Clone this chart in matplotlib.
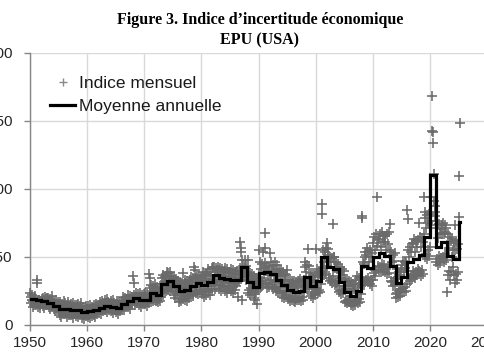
import matplotlib
matplotlib.use("Agg")
import matplotlib.pyplot as plt
from matplotlib.lines import Line2D
import numpy as np

# ---------------- data ----------------
years = list(range(1950, 2026))
annual_mean = [57, 55, 53, 49, 43, 36, 35, 34, 33, 29,
               30, 33, 38, 42, 40, 38, 47, 52, 60, 55,
               56, 70, 66, 90, 96, 85, 74, 78, 86, 92,
               88, 95, 110, 103, 101, 99, 100, 128, 94, 83,
               114, 118, 112, 99, 88, 78, 73, 76, 106, 86,
               97, 151, 129, 123, 95, 72, 65, 76, 130, 125,
               150, 158, 152, 130, 92, 105, 140, 145, 155, 195,
               331, 172, 183, 152, 145, 228]

monthly_1950s = [70, 62, 48, 55, 66, 40, 52, 58, 45, 63, 60, 55,
                 50, 45, 99, 92, 52, 40, 48, 55, 38, 44, 46, 52,
                 58, 46, 60, 42, 55, 38, 62, 50, 48, 57, 44, 60,
                 52, 44, 60, 40, 55, 36, 58, 47, 50, 42, 63, 45,
                 48, 36, 52, 40, 45, 30, 55, 38, 44, 35, 50, 42,
                 44, 28, 50, 22, 38, 18, 46, 30, 40, 25, 52, 35,
                 42, 24, 48, 28, 40, 18, 36, 30, 50, 22, 35, 44,
                 40, 22, 46, 28, 38, 16, 48, 30, 35, 25, 44, 33,
                 38, 20, 44, 26, 46, 18, 36, 28, 42, 24, 48, 32,
                 34, 16, 40, 22, 30, 14, 38, 24, 33, 20, 42, 28]
monthly_1960s = [36, 18, 42, 22, 30, 16, 44, 26, 35, 20, 40, 31,
                 38, 22, 44, 28, 34, 18, 46, 30, 40, 24, 36, 35,
                 44, 28, 50, 32, 40, 24, 52, 36, 46, 30, 38, 42,
                 48, 32, 56, 36, 44, 28, 58, 40, 50, 34, 46, 45,
                 46, 30, 54, 34, 42, 26, 55, 38, 48, 32, 40, 44,
                 44, 28, 52, 32, 40, 24, 50, 36, 46, 30, 38, 42,
                 54, 36, 62, 42, 50, 32, 60, 45, 52, 40, 56, 48,
                 58, 40, 66, 46, 55, 36, 64, 50, 56, 44, 62, 52,
                 107, 93, 66, 50, 58, 44, 70, 55, 62, 48, 68, 57,
                 62, 44, 70, 48, 58, 40, 66, 52, 60, 46, 68, 55]
monthly_1970s = [64, 46, 70, 50, 58, 42, 68, 54, 60, 48, 112, 103,
                 82, 56, 88, 60, 74, 54, 86, 64, 78, 56, 90, 68,
                 80, 52, 84, 56, 72, 50, 82, 58, 74, 54, 80, 62,
                 104, 72, 110, 78, 94, 70, 106, 80, 98, 76, 108, 88,
                 118, 78, 114, 84, 102, 74, 116, 86, 108, 80, 104, 92,
                 100, 66, 106, 72, 90, 60, 102, 76, 94, 68, 96, 82,
                 88, 51, 94, 58, 80, 54, 92, 64, 115, 58, 84, 70,
                 92, 56, 100, 64, 82, 54, 96, 68, 86, 60, 94, 74,
                 100, 66, 106, 72, 90, 64, 104, 76, 129, 121, 102, 84,
                 104, 70, 110, 76, 94, 68, 108, 78, 98, 72, 106, 86]
monthly_1980s = [104, 68, 116, 76, 96, 62, 110, 80, 100, 66, 112, 86,
                 112, 72, 124, 80, 102, 66, 118, 86, 108, 74, 126, 94,
                 128, 88, 129, 94, 116, 80, 125, 100, 122, 90, 127, 108,
                 122, 80, 126, 88, 110, 74, 124, 94, 116, 84, 120, 98,
                 120, 76, 126, 86, 108, 70, 124, 92, 114, 80, 118, 96,
                 118, 74, 124, 84, 106, 70, 122, 90, 112, 78, 116, 94,
                 110, 86, 120, 92, 104, 62, 112, 96, 125, 182, 169, 160,
                 143, 55, 130, 112, 120, 105, 143, 115, 125, 100, 130, 118,
                 110, 70, 143, 78, 100, 66, 114, 82, 104, 72, 112, 86,
                 100, 60, 108, 68, 90, 56, 104, 72, 94, 46, 102, 78]
monthly_1990s = [165, 112, 140, 90, 124, 84, 134, 98, 160, 88, 126, 104,
                 202, 170, 136, 90, 120, 82, 130, 92, 118, 84, 128, 100,
                 158, 110, 138, 88, 118, 80, 132, 94, 124, 84, 140, 100,
                 120, 76, 132, 80, 108, 72, 124, 84, 112, 74, 122, 92,
                 108, 62, 118, 70, 96, 60, 112, 74, 100, 66, 110, 84,
                 121, 58, 100, 60, 86, 52, 98, 64, 90, 56, 96, 72,
                 92, 54, 98, 58, 82, 50, 94, 60, 86, 55, 96, 70,
                 96, 56, 102, 60, 84, 54, 98, 62, 88, 56, 100, 72,
                 128, 84, 138, 88, 116, 80, 132, 92, 168, 86, 130, 100,
                 106, 64, 114, 68, 94, 60, 110, 72, 100, 66, 108, 82]
monthly_2000s = [167, 80, 124, 74, 106, 70, 120, 78, 112, 72, 118, 90,
                 268, 245, 165, 125, 140, 110, 160, 118, 150, 112, 170, 130,
                 181, 167, 155, 104, 138, 96, 150, 100, 140, 92, 148, 108,
                 223, 150, 150, 96, 128, 88, 140, 92, 124, 86, 135, 96,
                 118, 72, 128, 76, 104, 68, 124, 78, 110, 70, 120, 86,
                 94, 50, 102, 54, 80, 48, 98, 56, 86, 50, 96, 64,
                 86, 44, 94, 48, 74, 42, 90, 50, 80, 44, 88, 56,
                 100, 52, 108, 56, 84, 48, 104, 58, 90, 50, 106, 68,
                 240, 236, 140, 95, 135, 88, 150, 94, 160, 100, 155, 96,
                 170, 104, 162, 96, 140, 90, 165, 100, 150, 86, 158, 100]
monthly_2010s = [180, 115, 195, 122, 165, 108, 200, 120, 175, 283, 188, 130,
                 190, 122, 200, 128, 172, 116, 205, 134, 182, 120, 196, 132,
                 184, 116, 196, 124, 166, 112, 200, 128, 178, 114, 205, 223,
                 165, 98, 160, 94, 140, 86, 155, 96, 142, 88, 158, 104,
                 59, 68, 124, 70, 102, 62, 118, 74, 110, 64, 122, 80,
                 132, 76, 142, 82, 116, 72, 138, 84, 126, 76, 136, 90,
                 254, 233, 165, 104, 150, 98, 172, 110, 160, 102, 178, 120,
                 180, 108, 190, 112, 160, 104, 185, 118, 172, 110, 188, 124,
                 224, 120, 195, 116, 172, 108, 192, 122, 184, 112, 200, 282,
                 235, 150, 250, 156, 215, 146, 242, 166, 226, 152, 245, 172]
monthly_2020s = [230, 220, 282, 505, 429, 425, 401, 333, 273, 262, 250, 240,
                 215, 140, 230, 146, 192, 132, 222, 152, 204, 136, 212, 148,
                 221, 200, 225, 150, 200, 140, 220, 156, 205, 144, 215, 152,
                 73, 110, 200, 120, 170, 100, 195, 116, 185, 150, 190, 128,
                 165, 110, 180, 221, 165, 92, 185, 112, 168, 100, 178, 118,
                 239, 329, 446]

y_ticks = [0, 150, 300, 450, 600]
x_ticks = [1950, 1960, 1970, 1980, 1990, 2000, 2010, 2020, 2030]
title_line1 = "Figure 3. Indice d\u2019incertitude \u00e9conomique"
title_line2 = "EPU (USA)"
label_monthly = "Indice mensuel"
label_annual = "Moyenne annuelle"

# ---------------- build series ----------------
monthly = np.array(monthly_1950s + monthly_1960s + monthly_1970s + monthly_1980s
                   + monthly_1990s + monthly_2000s + monthly_2010s + monthly_2020s, float)
month_x = years[0] + (np.arange(len(monthly)) + 0.5) / 12.0

n_last = len(monthly) - 12 * (len(years) - 1)
step_x = years + [years[-1] + n_last / 12.0]
step_y = annual_mean + [annual_mean[-1]]

# ---------------- figure ----------------
W, H = 485, 360
fig = plt.figure(figsize=(W / 100, H / 100), dpi=100)
ax_left, ax_bottom, ax_top = 30, 325, 53
x_per_year = 400 / 70.0
ax_right = ax_left + x_per_year * (x_ticks[-1] - x_ticks[0])
ax = fig.add_axes([ax_left / W, (H - ax_bottom) / H,
                   (ax_right - ax_left) / W, (ax_bottom - ax_top) / H])

ax.set_xlim(x_ticks[0], x_ticks[-1])
ax.set_ylim(y_ticks[0], y_ticks[-1])
ax.set_xticks(x_ticks)
ax.set_yticks(y_ticks)

grid_c = "#d9d9d9"
ax.grid(True, color=grid_c, linewidth=1.0)
ax.set_axisbelow(True)
for s in ["top", "right"]:
    ax.spines[s].set_visible(False)
for s in ["left", "bottom"]:
    ax.spines[s].set_color("#868686")
    ax.spines[s].set_linewidth(1.0)

tick_font = "Liberation Sans"
ax.tick_params(axis="both", colors="#868686", labelcolor="#262626",
               labelsize=11, length=4, width=1.0, direction="out")
ax.tick_params(axis="y", pad=8.5)
ax.tick_params(axis="x", pad=4)
for lab in ax.get_xticklabels() + ax.get_yticklabels():
    lab.set_fontfamily(tick_font)

mk_color = "#6a6a6a"
ax.plot(month_x, monthly, linestyle="none", marker="+", markersize=6.5,
        markeredgewidth=1.15, color=mk_color, clip_on=False, zorder=3)
ax.plot(step_x, step_y, drawstyle="steps-post", color="black",
        linewidth=2.3, solid_joinstyle="miter", zorder=4)

handles = [Line2D([], [], linestyle="none", marker="+", markersize=6.0,
                  markeredgewidth=1.0, color="#8a8a8a"),
           Line2D([], [], color="black", linewidth=2.3)]
leg = ax.legend(handles, [label_monthly, label_annual], loc="upper left",
                bbox_to_anchor=(50 / W, 1 - 76 / H), bbox_transform=fig.transFigure,
                frameon=False, prop={"family": tick_font, "size": 12.5},
                handlelength=1.45, handletextpad=0.2, labelspacing=0.45,
                borderpad=0, borderaxespad=0)
for t in leg.get_texts():
    t.set_color("#1a1a1a")

fig.text(260 / W, 1 - 20 / H, title_line1, ha="center", va="center",
         fontfamily="Liberation Serif", fontweight="bold", fontsize=11.5)
fig.text(260 / W, 1 - 40 / H, title_line2, ha="center", va="center",
         fontfamily="Liberation Serif", fontweight="bold", fontsize=11.5)

fig.savefig("out.png", dpi=100)
